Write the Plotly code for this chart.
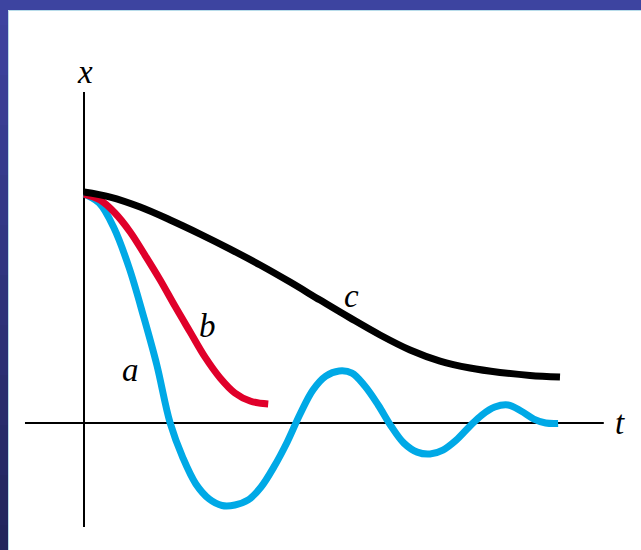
import plotly.graph_objects as go

# curve a (underdamped)
t_a = [0.00, 0.32, 0.63, 0.95, 1.26, 1.53, 1.81, 2.08, 2.35, 2.63, 2.90, 3.17, 3.45, 3.72, 3.99,
       4.27, 4.54, 4.81, 5.08, 5.36, 5.63, 5.90, 6.18, 6.45, 6.72, 7.00, 7.27, 7.54, 7.82, 8.09,
       8.36, 8.63, 8.91, 9.18, 9.45, 9.70, 9.96]
x_a = [0.991, 0.952, 0.844, 0.671, 0.455, 0.251, 0.000, -0.152, -0.264, -0.329, -0.357, -0.355,
       -0.333, -0.277, -0.190, -0.082, 0.039, 0.143, 0.203, 0.225, 0.216, 0.160, 0.078, -0.013,
       -0.087, -0.126, -0.134, -0.117, -0.074, -0.017, 0.035, 0.069, 0.078, 0.052, 0.017, 0.000, -0.002]

# curve b (critically damped)
t_b = [0.00, 0.34, 0.65, 0.97, 1.28, 1.60, 1.91, 2.23, 2.54, 2.86, 3.17, 3.49, 3.87]
x_b = [0.991, 0.965, 0.909, 0.827, 0.727, 0.619, 0.506, 0.394, 0.286, 0.195, 0.130, 0.095, 0.082]

# curve c (overdamped)
t_c = [0.00, 0.55, 1.18, 1.81, 2.44, 3.07, 3.70, 4.33, 4.96, 5.59, 6.22, 6.85, 7.48, 8.11, 8.74, 9.37, 10.00]
x_c = [1.000, 0.978, 0.935, 0.879, 0.818, 0.753, 0.684, 0.610, 0.532, 0.455, 0.381, 0.316, 0.268,
       0.238, 0.219, 0.206, 0.199]

labels = ["a", "b", "c"]
label_t = [0.97, 2.60, 5.63]
label_x = [0.23, 0.42, 0.55]

fig = go.Figure()
fig.add_trace(go.Scatter(x=t_a, y=x_a, mode="lines", line=dict(color="#00a9e6", width=7, shape="spline", smoothing=1.0), hoverinfo="skip"))
fig.add_trace(go.Scatter(x=t_b, y=x_b, mode="lines", line=dict(color="#e0002a", width=7, shape="spline", smoothing=1.0), hoverinfo="skip"))
fig.add_trace(go.Scatter(x=t_c, y=x_c, mode="lines", line=dict(color="#000000", width=7, shape="spline", smoothing=1.0), hoverinfo="skip"))

shapes = []
# axes
shapes.append(dict(type="line", xref="x", yref="y", x0=0, x1=0, y0=-0.450, y1=1.433,
                   line=dict(color="black", width=2), layer="below"))
shapes.append(dict(type="line", xref="x", yref="y", x0=-1.24, x1=10.92, y0=0, y1=0,
                   line=dict(color="black", width=2), layer="below"))
# frame: top bar
W, H = 641, 550
shapes.append(dict(type="rect", xref="paper", yref="paper", x0=0, x1=1, y0=1 - 10 / H, y1=1,
                   fillcolor="#3d44a0", line=dict(width=0)))
# left strip gradient
n = 22
c0 = (0x3d, 0x44, 0xa0)
c1 = (0x21, 0x25, 0x5c)
for i in range(n):
    f = i / (n - 1)
    col = "rgb(%d,%d,%d)" % tuple(round(c0[k] + (c1[k] - c0[k]) * f) for k in range(3))
    ya = 1 - i / n
    yb = 1 - (i + 1) / n
    shapes.append(dict(type="rect", xref="paper", yref="paper", x0=0, x1=8 / W, y0=yb, y1=ya,
                       fillcolor=col, line=dict(width=0)))
# thin light inner edge
shapes.append(dict(type="line", xref="paper", yref="paper", x0=8.5 / W, x1=1, y0=1 - 10.5 / H, y1=1 - 10.5 / H,
                   line=dict(color="#b8dcea", width=1)))
shapes.append(dict(type="line", xref="paper", yref="paper", x0=8.5 / W, x1=8.5 / W, y0=0, y1=1 - 10.5 / H,
                   line=dict(color="#b8dcea", width=1)))

annotations = []
font = dict(family="'Liberation Serif', serif", size=33, color="black", style="italic")
for lab, tx, xx in zip(labels, label_t, label_x):
    annotations.append(dict(x=tx, y=xx, xref="x", yref="y", text=lab, showarrow=False,
                            font=font, xanchor="center", yanchor="middle"))
annotations.append(dict(x=0.02, y=1.52, xref="x", yref="y", text="x", showarrow=False,
                        font=font, xanchor="center", yanchor="middle"))
annotations.append(dict(x=11.26, y=0.0, xref="x", yref="y", text="t", showarrow=False,
                        font=font, xanchor="center", yanchor="middle"))

fig.update_layout(
    width=W, height=H,
    margin=dict(l=0, r=0, t=0, b=0),
    paper_bgcolor="white", plot_bgcolor="white",
    showlegend=False,
    xaxis=dict(range=[-84 / 47.6, (641 - 84) / 47.6], visible=False, fixedrange=True),
    yaxis=dict(range=[(423 - 550) / 231, 423 / 231], visible=False, fixedrange=True),
    shapes=shapes, annotations=annotations,
)
fig.write_html("out.html", config={"displayModeBar": False},
               post_script="document.body.style.margin='0';document.body.style.overflow='hidden';")
